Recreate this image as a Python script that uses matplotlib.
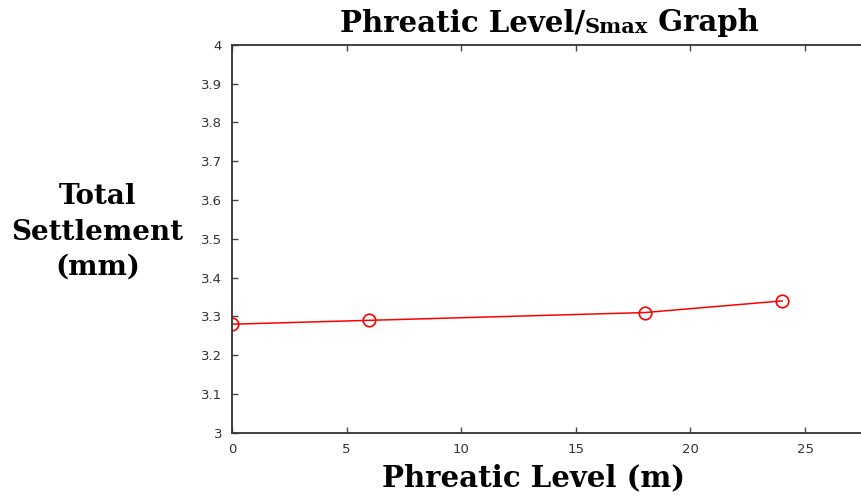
import matplotlib.pyplot as plt

# data
phreatic_level = [0, 6, 18, 24]
settlement = [3.28, 3.29, 3.31, 3.34]
x_ticks = [0, 5, 10, 15, 20, 25]
y_ticks = [3.0, 3.1, 3.2, 3.3, 3.4, 3.5, 3.6, 3.7, 3.8, 3.9, 4.0]
y_tick_labels = ["3", "3.1", "3.2", "3.3", "3.4", "3.5", "3.6", "3.7", "3.8", "3.9", "4"]

# the reference text is wide and bold, DejaVu Serif gets closest in width
SERIF = "DejaVu Serif"

fig = plt.figure(figsize=(8.62, 4.97), dpi=100)
# axes runs past the right edge (the original was cropped there)
ax = fig.add_axes([0.269, 0.129, 0.798, 0.781])

ax.plot(
    phreatic_level,
    settlement,
    color="red",
    linewidth=1.1,
    marker="o",
    markersize=9,
    markerfacecolor="none",
    markeredgecolor="red",
    markeredgewidth=1.2,
)

ax.set_xlim(0, 30)
ax.set_ylim(3, 4)
ax.set_xticks(x_ticks)
ax.set_yticks(y_ticks)
ax.set_yticklabels(y_tick_labels)
ax.tick_params(
    direction="in", top=True, right=False, length=4, width=1,
    colors="#444444", labelsize=9.5, labelcolor="#333333",
)
ax.tick_params(axis="y", pad=7)
ax.tick_params(axis="x", pad=7)

for side in ["left", "bottom", "top"]:
    ax.spines[side].set_color("#333333")
    ax.spines[side].set_linewidth(1.3)
ax.spines["right"].set_visible(False)

# title in three pieces, "Smax" is set smaller
t1 = fig.text(0.394, 0.937, "Phreatic Level/", fontsize=21, fontweight="bold",
              family=SERIF, ha="left", va="baseline")
t2 = ax.annotate("Smax", xy=(1, 0), xycoords=t1, fontsize=15, fontweight="bold",
                 family=SERIF, ha="left", va="bottom")
ax.annotate(" Graph", xy=(1, 0), xycoords=t2, fontsize=21, fontweight="bold",
            family=SERIF, ha="left", va="bottom")

fig.text(0.619, 0.022, "Phreatic Level (m)", fontsize=21, fontweight="bold",
         family=SERIF, ha="center", va="baseline")
fig.text(0.113, 0.533, "Total\nSettlement\n(mm)", fontsize=20, fontweight="bold",
         family=SERIF, ha="center", va="center", linespacing=1.4)

plt.savefig("out.png", dpi=100)
